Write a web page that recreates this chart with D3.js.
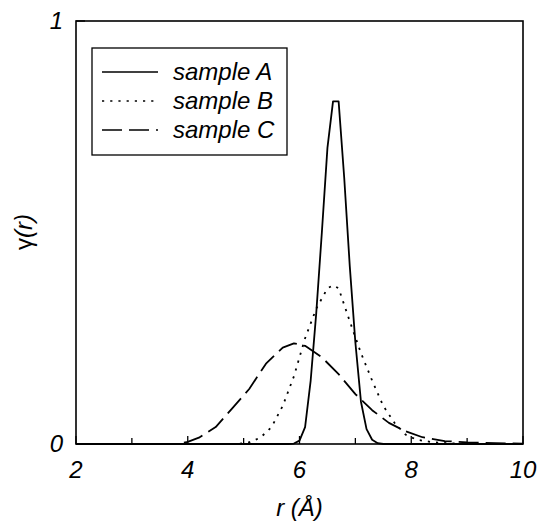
<!DOCTYPE html>
<html>
<head>
<meta charset="utf-8">
<script src="https://cdn.jsdelivr.net/npm/d3@7"></script>
<style>
  body { margin: 0; background: #fff; }
  svg { display: block; }
  text { font-family: 'Liberation Sans', Arial, sans-serif; font-style: italic; fill: #000; }
</style>
</head>
<body>
<div id="chart"></div>
<script>
// values
const sampleA_r = [2, 5.8, 5.9, 6.0, 6.1, 6.2, 6.3, 6.4, 6.5, 6.6, 6.7, 6.8, 6.9, 7.0, 7.1, 7.2, 7.3, 7.4, 7.5, 10];
const sampleA_g = [0, 0, 0.001, 0.008, 0.04, 0.15, 0.31, 0.50, 0.70, 0.81, 0.81, 0.63, 0.42, 0.24, 0.10, 0.035, 0.01, 0.002, 0, 0];

const sampleB_r = [2, 4.9, 5.1, 5.3, 5.5, 5.7, 5.9, 6.1, 6.3, 6.5, 6.6, 6.7, 6.9, 7.1, 7.3, 7.5, 7.7, 7.9, 8.1, 8.4, 8.8, 9.2, 10];
const sampleB_g = [0, 0, 0.004, 0.015, 0.04, 0.09, 0.16, 0.25, 0.32, 0.368, 0.375, 0.368, 0.29, 0.215, 0.15, 0.09, 0.05, 0.022, 0.01, 0.004, 0.001, 0, 0];

const sampleC_r = [2, 3.8, 4.0, 4.2, 4.5, 4.8, 5.1, 5.4, 5.7, 5.9, 6.1, 6.4, 6.7, 7.0, 7.3, 7.6, 7.9, 8.2, 8.6, 9.0, 9.5, 10];
const sampleC_g = [0, 0, 0.005, 0.015, 0.04, 0.085, 0.13, 0.19, 0.228, 0.238, 0.232, 0.205, 0.165, 0.118, 0.08, 0.05, 0.03, 0.016, 0.007, 0.004, 0.002, 0.001];

const seriesNames = ['sample A', 'sample B', 'sample C'];
const xTicks = [2, 4, 6, 8, 10];
const xMinorTicks = [3, 5, 7, 9];
const yTicks = [0, 1];

const width = 540;
const height = 523;
const margin = { top: 21, right: 17, bottom: 79, left: 76 };

const svg = d3.select('#chart').append('svg')
  .attr('width', width)
  .attr('height', height);

const x = d3.scaleLinear().domain([2, 10]).range([margin.left, width - margin.right]);
const y = d3.scaleLinear().domain([0, 1]).range([height - margin.bottom, margin.top]);

const styles = [
  { dash: null },
  { dash: '2.2,6' },
  { dash: '20,7' },
];

const series = [
  d3.zip(sampleA_r, sampleA_g),
  d3.zip(sampleB_r, sampleB_g),
  d3.zip(sampleC_r, sampleC_g),
];

const line = d3.line().x((d) => x(d[0])).y((d) => y(d[1]));

svg.append('g')
  .selectAll('path')
  .data(series)
  .join('path')
  .attr('d', line)
  .attr('fill', 'none')
  .attr('stroke', '#000')
  .attr('stroke-width', 1.8)
  .attr('stroke-linejoin', 'round')
  .attr('stroke-dasharray', (d, i) => styles[i].dash);

// frame
svg.append('rect')
  .attr('x', x(2))
  .attr('y', y(1))
  .attr('width', x(10) - x(2))
  .attr('height', y(0) - y(1))
  .attr('fill', 'none')
  .attr('stroke', '#000')
  .attr('stroke-width', 1.6);

// x ticks, pointing inward
const xAxis = svg.append('g').attr('transform', `translate(0,${y(0)})`);
xAxis.selectAll('line.major')
  .data(xTicks)
  .join('line')
  .attr('class', 'major')
  .attr('x1', (d) => x(d)).attr('x2', (d) => x(d))
  .attr('y1', 0).attr('y2', -8)
  .attr('stroke', '#000').attr('stroke-width', 1.3);
xAxis.selectAll('line.minor')
  .data(xMinorTicks)
  .join('line')
  .attr('class', 'minor')
  .attr('x1', (d) => x(d)).attr('x2', (d) => x(d))
  .attr('y1', 0).attr('y2', -6)
  .attr('stroke', '#000').attr('stroke-width', 1.3);
xAxis.selectAll('text')
  .data(xTicks)
  .join('text')
  .attr('x', (d) => x(d))
  .attr('y', 34)
  .attr('text-anchor', 'middle')
  .style('font-size', '24px')
  .text((d) => d);

// y ticks
const yAxis = svg.append('g').attr('transform', `translate(${x(2)},0)`);
yAxis.selectAll('line')
  .data(yTicks)
  .join('line')
  .attr('x1', 0).attr('x2', 9)
  .attr('y1', (d) => y(d)).attr('y2', (d) => y(d))
  .attr('stroke', '#000').attr('stroke-width', 1.3);
yAxis.selectAll('text')
  .data(yTicks)
  .join('text')
  .attr('x', -13)
  .attr('y', (d) => y(d) + 8)
  .attr('text-anchor', 'end')
  .style('font-size', '24px')
  .text((d) => d);

// axis titles
svg.append('text')
  .attr('x', (x(2) + x(10)) / 2)
  .attr('y', 516)
  .attr('text-anchor', 'middle')
  .style('font-size', '24px')
  .text('r (Å)');

const yTitle = svg.append('text')
  .attr('transform', `translate(32,232) rotate(-90)`)
  .attr('text-anchor', 'middle')
  .style('font-size', '24px');
yTitle.append('tspan').style('font-style', 'normal').text('γ');
yTitle.append('tspan').text('(r)');

// legend
const legend = svg.append('g');
legend.append('rect')
  .attr('x', 92).attr('y', 48)
  .attr('width', 195).attr('height', 107)
  .attr('fill', '#fff')
  .attr('stroke', '#000')
  .attr('stroke-width', 1.3);

const rows = legend.selectAll('g.row')
  .data(seriesNames)
  .join('g')
  .attr('class', 'row')
  .attr('transform', (d, i) => `translate(0,${72 + i * 29})`);

rows.append('line')
  .attr('x1', 102).attr('x2', 158)
  .attr('y1', 0).attr('y2', 0)
  .attr('stroke', '#000')
  .attr('stroke-width', 1.6)
  .attr('stroke-dasharray', (d, i) => styles[i].dash);

rows.append('text')
  .attr('x', 173)
  .attr('y', 8)
  .style('font-size', '24px')
  .text((d) => d);
</script>
</body>
</html>
